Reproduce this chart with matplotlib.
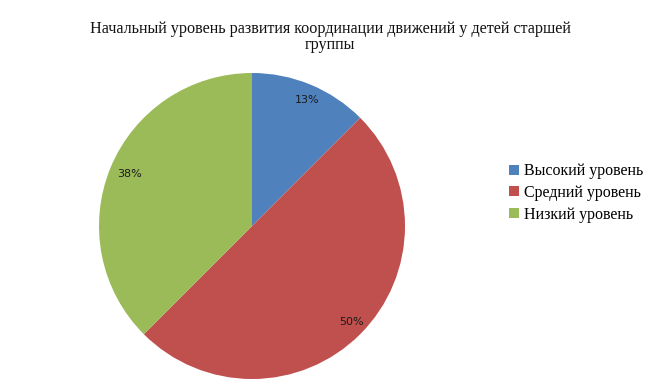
import matplotlib.pyplot as plt
import numpy as np

# data
labels = ['Высокий уровень', 'Средний уровень', 'Низкий уровень']
values = [12.5, 50, 37.5]
pct_labels = ['13%', '50%', '38%']
colors = ['#4F81BD', '#C0504D', '#9BBB59']

fig = plt.figure(figsize=(6.58, 3.86), dpi=100)
fig.patch.set_facecolor('white')

W, H = 658, 386
cx, cy, r = 252, 226, 153
ax = fig.add_axes([(cx - r) / W, (H - cy - r) / H, 2 * r / W, 2 * r / H])

wedges, _ = ax.pie(values, colors=colors, startangle=90, counterclock=False,
                   radius=1.0, wedgeprops=dict(linewidth=0))
ax.set_xlim(-1, 1)
ax.set_ylim(-1, 1)
ax.set_aspect('equal')

# percentage labels near the rim
ang = 90.0
for w, v, t in zip(wedges, values, pct_labels):
    mid = np.deg2rad(ang - v / 100 * 360 / 2)
    ang -= v / 100 * 360
    ax.text(0.89 * np.cos(mid) + 0.02, 0.89 * np.sin(mid), t, ha='center', va='center',
            fontsize=8, color='#1a1a1a', family='DejaVu Sans')

fig.text(330 / W, 1 - 37 / H,
         'Начальный уровень развития координации движений у детей старшей\nгруппы',
         ha='center', va='center', fontsize=11.6, family='Liberation Serif',
         linespacing=0.98, color='#111111')

leg = fig.legend(wedges, labels, loc='center left', bbox_to_anchor=(503 / W, 1 - 193 / H),
                 frameon=False, prop=dict(family='Liberation Serif', size=11.5),
                 handlelength=0.6, handleheight=0.6, handletextpad=0.3,
                 labelspacing=0.35, borderaxespad=0)

fig.savefig('out.png', dpi=100)
